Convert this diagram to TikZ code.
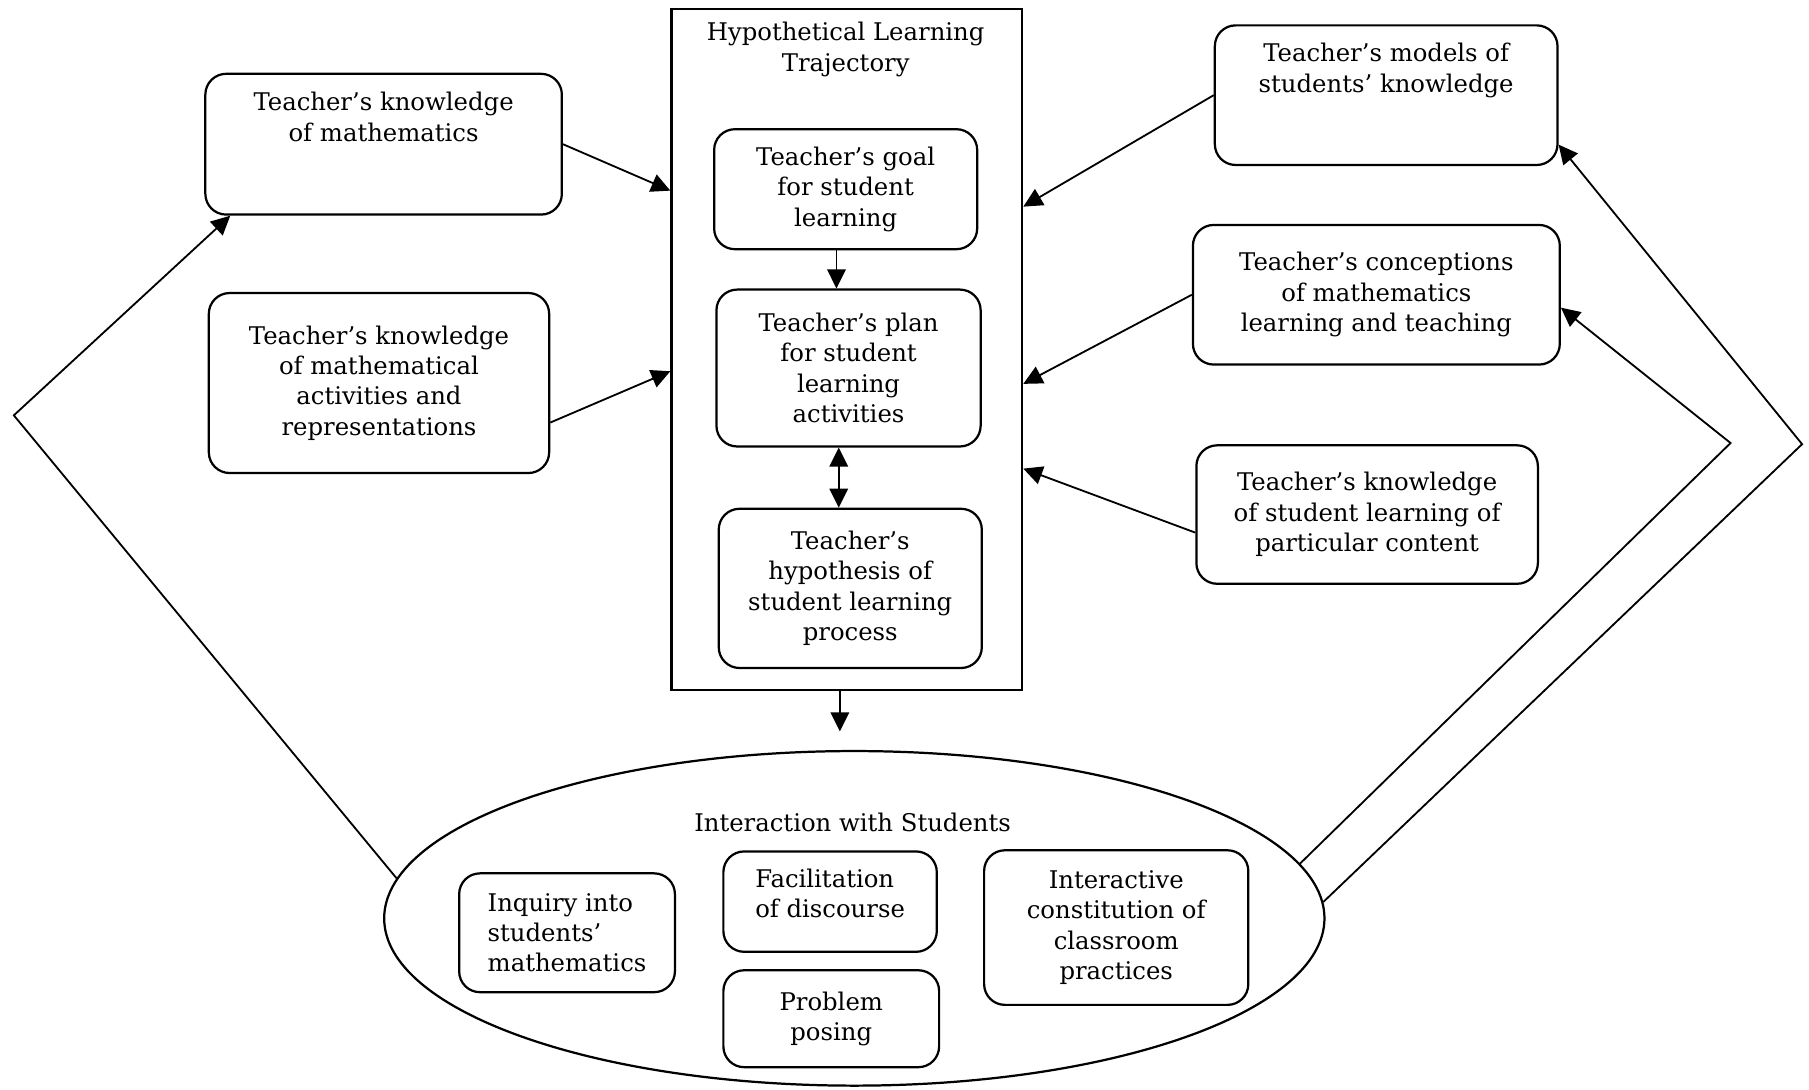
\documentclass[tikz,border=0pt]{standalone}
\usepackage{fontspec}
\setmainfont{DejaVu Serif}
\usetikzlibrary{arrows.meta, shapes.geometric}

\begin{document}
\begin{tikzpicture}[x=0.2mm, y=-0.2mm, font=\fontsize{12}{15}\selectfont,
    box/.style={draw, line width=1.1pt, rounded corners=3.6mm, align=center, inner sep=2pt},
    link/.style={line width=0.9pt, >={Triangle[length=3.3mm, width=3.2mm]}, ->}]

\useasboundingbox (0,0) rectangle (1568,944);

\node[align=center] (hlttitle) at (733,43) {Hypothetical Learning\\Trajectory};
\node (intertitle) at (739,713) {Interaction with Students};

\begin{scope}[every node/.style={box}]
    \node[rounded corners=0pt, minimum width=6.08cm, minimum height=11.8cm] (hlt) at (734,303) {};
    \node[minimum width=4.56cm, minimum height=2.08cm] (goal) at (733,164) {Teacher's goal\\for student\\learning};
    \node[minimum width=4.58cm, minimum height=2.72cm] (plan) at (735.5,319) {Teacher's plan\\for student\\learning\\activities};
    \node[minimum width=4.56cm, minimum height=2.76cm] (hyp) at (737,510) {Teacher's\\hypothesis of\\student learning\\process};

    \node[minimum width=6.18cm, minimum height=2.44cm, text depth=0.95cm] (tkm) at (332.5,125) {Teacher's knowledge\\of mathematics};
    \node[minimum width=5.9cm, minimum height=3.12cm] (tka) at (328.5,332) {Teacher's knowledge\\of mathematical\\activities and\\representations};

    \node[minimum width=5.94cm, minimum height=2.42cm, text depth=0.95cm] (tms) at (1201.5,82.5) {Teacher's models of\\students' knowledge};
    \node[minimum width=6.36cm, minimum height=2.42cm] (tcm) at (1193,255.5) {Teacher's conceptions\\of mathematics\\learning and teaching};
    \node[minimum width=5.92cm, minimum height=2.4cm] (tks) at (1185,446) {Teacher's knowledge\\of student learning of\\particular content};

    \node[ellipse, minimum width=16.3cm, minimum height=5.8cm] (inter) at (740.5,796) {};
    \node[align=left, minimum width=3.74cm, minimum height=2.06cm] (inquiry) at (491.5,808.5) {Inquiry into\\students'\\mathematics};
    \node[align=left, minimum width=3.7cm, minimum height=1.74cm, text depth=0.3cm] (facil) at (719.5,781.5) {Facilitation\\of discourse};
    \node[minimum width=3.74cm, minimum height=1.68cm] (posing) at (720.5,883) {Problem\\posing};
    \node[minimum width=4.58cm, minimum height=2.68cm] (constit) at (967.5,804) {Interactive\\constitution of\\classroom\\practices};
\end{scope}

\coordinate (into) at (728,634);
\coordinate (lk) at (12,360);
\coordinate (rk1) at (1562,385);
\coordinate (rk2) at (1500,384);

\begin{scope}[link]
    \draw (tkm.east) -- (hlt.138);
    \draw (tka.347) -- (hlt.187.5);
    \draw (tms.west) -- (hlt.39);
    \draw (tcm.west) -- (hlt.349);
    \draw (tks.186) -- (hlt.326);

    \draw ([xshift=-1.6mm]goal.south) -- ([xshift=-1.6mm]goal.south |- plan.north);
    \draw[<->] ([xshift=-1.7mm]plan.south) -- ([xshift=-1.7mm]plan.south |- hyp.north);
    \draw (hlt.south -| into) -- (into);

    \draw (inter.175) -- (lk) -- (tkm.205);
    \draw (inter.2) -- (rk1) -- (tms.344);
    \draw (inter.7) -- (rk2) -- (tcm.356);
\end{scope}

\end{tikzpicture}
\end{document}
